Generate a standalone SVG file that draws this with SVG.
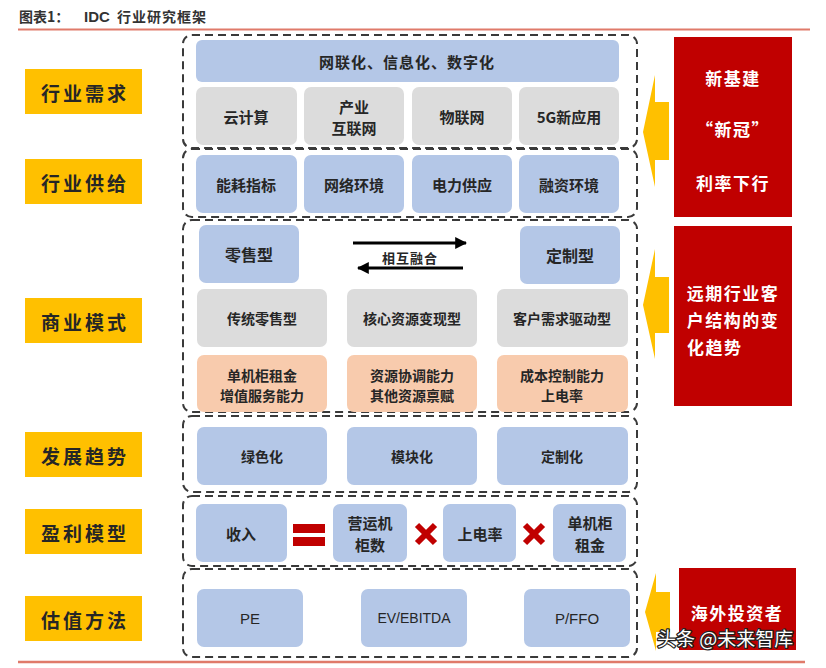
<svg xmlns="http://www.w3.org/2000/svg" width="826" height="668" viewBox="0 0 826 668">
<defs>
<style>
.t{font-family:"Noto Sans CJK SC","Liberation Sans",sans-serif;fill:#262626;font-weight:bold;text-anchor:middle;dominant-baseline:central}
.lat{font-family:"Liberation Sans","Noto Sans CJK SC",sans-serif;fill:#262626;text-anchor:middle;dominant-baseline:central}
.lab rect{fill:#FFC000}
.lab text{font-size:19px;letter-spacing:3px}
.blue{fill:#B4C7E7}
.gray{fill:#DCDCDC}
.peach{fill:#F8CBAD}
.dash{fill:none;stroke:#3A3A3A;stroke-width:2;stroke-dasharray:8 5}
.red{fill:#C00000}
.wt{fill:#FFFFFF;font-size:17px;letter-spacing:1.5px}
.arr{fill:#FFC000}
.blk{stroke:#000;stroke-width:3;fill:none}
.xm{stroke:#C00000;stroke-width:6;stroke-linecap:butt}
</style>
<marker id="ah" viewBox="0 0 10 10" refX="9" refY="5" markerWidth="4" markerHeight="4" orient="auto">
<path d="M0,0 L10,5 L0,10 z" fill="#000"/>
</marker>
</defs>
<rect width="826" height="668" fill="#FFFFFF"/>

<g id="title">
<text x="19" y="22" style="font-family:'Noto Sans CJK SC','Liberation Sans',sans-serif;font-size:14px;font-weight:bold;fill:#333">图表1：</text>
<text x="84" y="22" style="font-family:'Liberation Sans',sans-serif;font-size:15px;font-weight:bold;fill:#333">IDC</text>
<text x="117" y="22" style="font-family:'Noto Sans CJK SC','Liberation Sans',sans-serif;font-size:14px;font-weight:bold;fill:#333;letter-spacing:1px">行业研究框架</text>
<line x1="18" y1="29.5" x2="810" y2="29.5" stroke="#E07A6A" stroke-width="2"/>
<line x1="18" y1="662" x2="805" y2="662" stroke="#E07A6A" stroke-width="2.5"/>
</g>

<!-- left labels -->
<g id="lab-demand" class="lab"><rect x="25" y="69" width="117" height="45"/><text class="t" x="85" y="92">行业需求</text></g>
<g id="lab-supply" class="lab"><rect x="25" y="159" width="117" height="45"/><text class="t" x="85" y="182">行业供给</text></g>
<g id="lab-business" class="lab"><rect x="25" y="298" width="117" height="45"/><text class="t" x="85" y="321">商业模式</text></g>
<g id="lab-trend" class="lab"><rect x="25" y="432" width="117" height="45"/><text class="t" x="85" y="455">发展趋势</text></g>
<g id="lab-profit" class="lab"><rect x="25" y="509" width="117" height="45"/><text class="t" x="85" y="532">盈利模型</text></g>
<g id="lab-valuation" class="lab"><rect x="25" y="596" width="117" height="45"/><text class="t" x="85" y="619">估值方法</text></g>

<!-- dashed containers -->
<g id="containers">
<rect class="dash" x="183" y="35" width="454" height="113" rx="9"/>
<rect class="dash" x="183" y="149" width="454" height="68" rx="9"/>
<rect class="dash" x="183" y="220" width="454" height="192" rx="9"/>
<rect class="dash" x="183" y="416" width="454" height="76" rx="9"/>
<rect class="dash" x="183" y="496" width="454" height="70" rx="9"/>
<rect class="dash" x="183" y="569" width="454" height="88" rx="9"/>
</g>

<!-- demand -->
<g id="n-digital"><rect class="blue" x="196" y="40" width="423" height="42" rx="6"/><text class="t" x="407" y="61" style="font-size:15px;letter-spacing:1px">网联化、信息化、数字化</text></g>
<g id="n-cloud"><rect class="gray" x="196" y="87" width="101" height="58" rx="7"/><text class="t" x="246" y="116" style="font-size:15px">云计算</text></g>
<g id="n-iiot"><rect class="gray" x="304" y="87" width="100" height="58" rx="7"/><text class="t" x="354" y="106" style="font-size:15px">产业</text><text class="t" x="354" y="127" style="font-size:15px">互联网</text></g>
<g id="n-iot"><rect class="gray" x="412" y="87" width="100" height="58" rx="7"/><text class="t" x="462" y="116" style="font-size:15px">物联网</text></g>
<g id="n-5g"><rect class="gray" x="519" y="87" width="100" height="58" rx="7"/><text class="t" x="569" y="116" style="font-size:15px">5G新应用</text></g>

<!-- supply -->
<g id="n-energy"><rect class="blue" x="196" y="155" width="101" height="58" rx="7"/><text class="t" x="246" y="184" style="font-size:15px">能耗指标</text></g>
<g id="n-network"><rect class="blue" x="304" y="155" width="100" height="58" rx="7"/><text class="t" x="354" y="184" style="font-size:15px">网络环境</text></g>
<g id="n-power"><rect class="blue" x="412" y="155" width="100" height="58" rx="7"/><text class="t" x="462" y="184" style="font-size:15px">电力供应</text></g>
<g id="n-finance"><rect class="blue" x="519" y="155" width="100" height="58" rx="7"/><text class="t" x="569" y="184" style="font-size:15px">融资环境</text></g>

<!-- business -->
<g id="n-retail"><rect class="blue" x="199" y="225" width="100" height="58" rx="7"/><text class="t" x="249" y="254" style="font-size:16px">零售型</text></g>
<g id="n-custom"><rect class="blue" x="520" y="226" width="100" height="58" rx="7"/><text class="t" x="570" y="255" style="font-size:16px">定制型</text></g>
<g id="n-fusion-label"><text class="t" x="410" y="257" style="font-size:13px;letter-spacing:1px">相互融合</text></g>
<g id="n-trad"><rect class="gray" x="197" y="289" width="130" height="58" rx="7"/><text class="t" x="262" y="318" style="font-size:14px">传统零售型</text></g>
<g id="n-core"><rect class="gray" x="347" y="289" width="130" height="58" rx="7"/><text class="t" x="412" y="318" style="font-size:14px">核心资源变现型</text></g>
<g id="n-demand-driven"><rect class="gray" x="497" y="289" width="131" height="58" rx="7"/><text class="t" x="562" y="318" style="font-size:14px">客户需求驱动型</text></g>
<g id="n-rent"><rect class="peach" x="197" y="355" width="130" height="57" rx="7"/><text class="t" x="262" y="375" style="font-size:14px">单机柜租金</text><text class="t" x="262" y="395" style="font-size:14px">增值服务能力</text></g>
<g id="n-resource"><rect class="peach" x="347" y="355" width="130" height="57" rx="7"/><text class="t" x="412" y="375" style="font-size:14px">资源协调能力</text><text class="t" x="412" y="395" style="font-size:14px">其他资源禀赋</text></g>
<g id="n-cost"><rect class="peach" x="497" y="355" width="131" height="57" rx="7"/><text class="t" x="562" y="375" style="font-size:14px">成本控制能力</text><text class="t" x="562" y="395" style="font-size:14px">上电率</text></g>

<!-- trend -->
<g id="n-green"><rect class="blue" x="197" y="427" width="130" height="58" rx="7"/><text class="t" x="262" y="456" style="font-size:14px">绿色化</text></g>
<g id="n-module"><rect class="blue" x="347" y="427" width="130" height="58" rx="7"/><text class="t" x="412" y="456" style="font-size:14px">模块化</text></g>
<g id="n-customize"><rect class="blue" x="497" y="427" width="131" height="58" rx="7"/><text class="t" x="562" y="456" style="font-size:14px">定制化</text></g>

<!-- profit -->
<g id="n-revenue"><rect class="blue" x="196" y="504" width="91" height="58" rx="7"/><text class="t" x="241" y="533" style="font-size:15px">收入</text></g>
<g id="n-equals"><rect class="red" x="293" y="524" width="32" height="9"/><rect class="red" x="293" y="537" width="32" height="9"/></g>
<g id="n-racks"><rect class="blue" x="333" y="504" width="74" height="58" rx="7"/><text class="t" x="370" y="522" style="font-size:15px">营运机</text><text class="t" x="370" y="544" style="font-size:15px">柜数</text></g>
<g id="n-times1"><line class="xm" x1="417" y1="525" x2="435" y2="543"/><line class="xm" x1="435" y1="525" x2="417" y2="543"/></g>
<g id="n-util"><rect class="blue" x="443" y="504" width="73" height="58" rx="7"/><text class="t" x="480" y="533" style="font-size:15px">上电率</text></g>
<g id="n-times2"><line class="xm" x1="525" y1="525" x2="543" y2="543"/><line class="xm" x1="543" y1="525" x2="525" y2="543"/></g>
<g id="n-rackrent"><rect class="blue" x="553" y="504" width="73" height="58" rx="7"/><text class="t" x="590" y="522" style="font-size:15px">单机柜</text><text class="t" x="590" y="544" style="font-size:15px">租金</text></g>

<!-- valuation -->
<g id="n-pe"><rect class="blue" x="197" y="589" width="106" height="58" rx="7"/><text class="lat" x="250" y="618" style="font-size:15px">PE</text></g>
<g id="n-ev"><rect class="blue" x="361" y="589" width="106" height="58" rx="7"/><text class="lat" x="414" y="618" style="font-size:14px">EV/EBITDA</text></g>
<g id="n-pffo"><rect class="blue" x="524" y="589" width="106" height="58" rx="7"/><text class="lat" x="577" y="618" style="font-size:15px">P/FFO</text></g>

<!-- right drivers -->
<g id="d-policy"><rect class="red" x="674" y="37" width="118" height="180"/>
<text class="t wt" x="733" y="77">新基建</text>
<text class="t wt" x="733" y="128">“新冠”</text>
<text class="t wt" x="733" y="182">利率下行</text></g>
<g id="d-customer"><rect class="red" x="674" y="226" width="118" height="180"/>
<text class="t wt" x="733" y="292">远期行业客</text>
<text class="t wt" x="733" y="319">户结构的变</text>
<text class="t wt" x="687" y="346" style="text-anchor:start">化趋势</text></g>
<g id="d-foreign"><rect class="red" x="679" y="568" width="117" height="82"/>
<text class="t wt" x="737" y="612">海外投资者</text></g>

<!-- connectors -->
<g id="connectors">
<line class="blk" x1="353" y1="243" x2="466" y2="243" marker-end="url(#ah)"/>
<line class="blk" x1="463" y1="268" x2="358" y2="268" marker-end="url(#ah)"/>
<polygon class="arr" points="643,132 655,75 655,102 669,102 669,160 655,160 655,187"/>
<polygon class="arr" points="643,305 655,249 655,277 669,277 669,333 655,333 655,359"/>
<polygon class="arr" points="645,612 656,573 656,592 670,592 670,632 656,632 656,651"/>
</g>

<g id="watermark"><text x="657" y="646" style="font-family:'Noto Sans CJK SC',sans-serif;font-size:19px;fill:#FFFFFF;stroke:#222;stroke-width:2.5;paint-order:stroke;stroke-linejoin:round">头条 @未来智库</text></g>
</svg>
